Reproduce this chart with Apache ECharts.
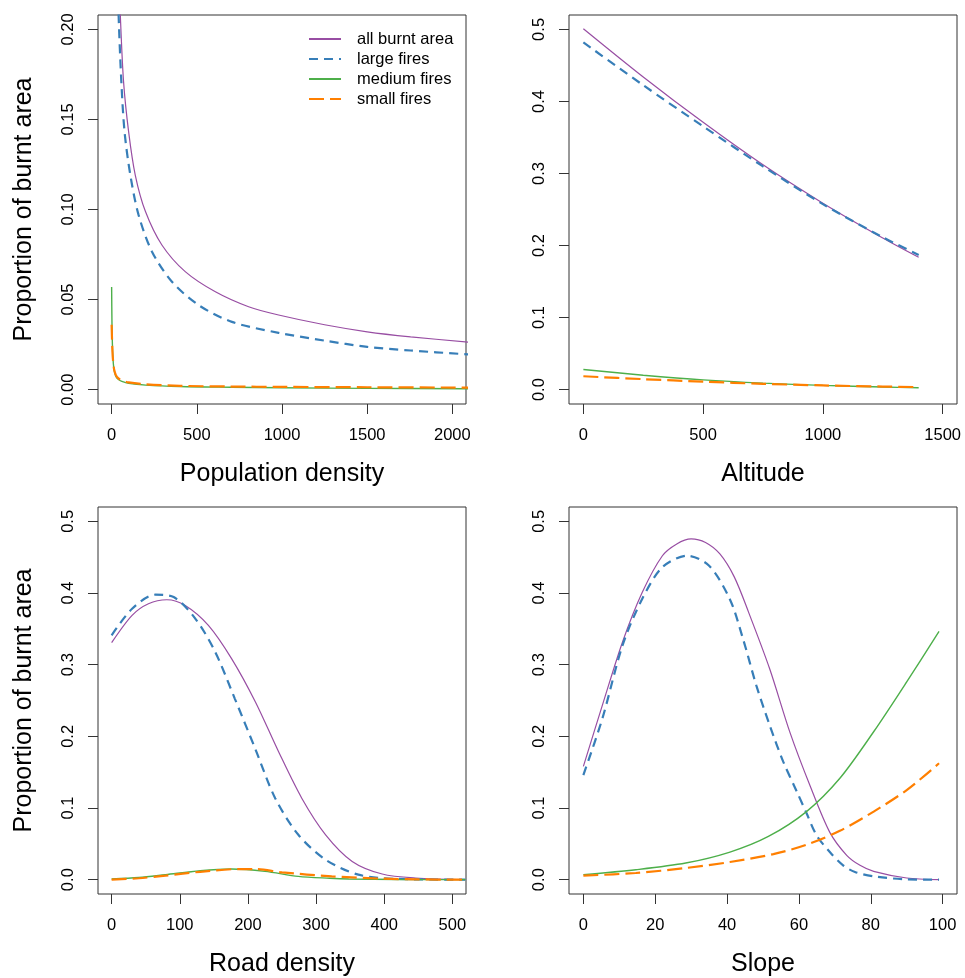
<!DOCTYPE html>
<html>
<head>
<meta charset="utf-8">
<title>Proportion of burnt area</title>
<script src="https://cdn.jsdelivr.net/npm/echarts@6/dist/echarts.min.js"></script>
<style>
  html, body { margin: 0; padding: 0; background: #fff; }
  #chart { width: 965px; height: 978px; }
</style>
</head>
<body>
<div id="chart"></div>
<script>
// series names, shared by all four panels
const seriesNames = ['all burnt area', 'large fires', 'medium fires', 'small fires'];

// Population density panel, [x, y] pairs
const popAll = [[40, 0.24], [51, 0.208], [70, 0.171], [100, 0.143], [139, 0.119], [198, 0.099], [295, 0.0803], [432, 0.0655], [609, 0.0543], [804, 0.046], [980, 0.0414], [1250, 0.036], [1500, 0.0321], [1755, 0.0293], [2100, 0.0263]];
const popLarge = [[30, 0.25], [41, 0.208], [57, 0.171], [76, 0.143], [110, 0.119], [158, 0.097], [237, 0.0766], [354, 0.0599], [511, 0.0469], [706, 0.0376], [980, 0.0315], [1250, 0.0272], [1500, 0.0237], [1755, 0.0217], [2100, 0.0195]];
const popMedium = [[0, 0.057], [1, 0.046], [2, 0.037], [4, 0.027], [6, 0.021], [10, 0.0145], [15, 0.0105], [25, 0.0073], [40, 0.0056], [60, 0.0046], [100, 0.0035], [200, 0.0025], [400, 0.0017], [700, 0.0013], [1000, 0.001], [1500, 0.0007], [2100, 0.0005]];
const popSmall = [[0, 0.036], [2, 0.029], [4, 0.023], [6, 0.019], [10, 0.0145], [15, 0.011], [25, 0.008], [40, 0.0062], [60, 0.0051], [100, 0.004], [200, 0.0029], [400, 0.0021], [700, 0.0017], [1000, 0.0015], [1500, 0.0013], [2100, 0.0011]];

// Altitude panel
const altX = [0, 250, 500, 750, 1000, 1250, 1400];
const altAll = [0.501, 0.434, 0.371, 0.312, 0.2588, 0.2105, 0.1837];
const altLarge = [0.482, 0.4225, 0.3655, 0.3098, 0.2575, 0.2115, 0.187];
const altMedium = [0.0278, 0.02, 0.0135, 0.009, 0.0058, 0.0035, 0.0025];
const altSmall = [0.0185, 0.0145, 0.011, 0.008, 0.0058, 0.0042, 0.0035];

// Road density panel
const roadAll = [[0, 0.3307], [30, 0.3688], [54, 0.385], [81, 0.3906], [108, 0.3827], [142, 0.3549], [176, 0.3085], [211, 0.248], [245, 0.1785], [279, 0.1137], [314, 0.0626], [353, 0.0255], [397, 0.0079], [446, 0.0023], [519, 0.0]];
const roadLarge = [[0, 0.341], [30, 0.378], [64, 0.3976], [91, 0.3943], [123, 0.364], [152, 0.3177], [181, 0.252], [211, 0.182], [240, 0.1137], [274, 0.0626], [314, 0.0278], [362, 0.007], [421, 0.001], [519, 0.0]];
const roadMedium = [[0, 0.001], [40, 0.003], [79, 0.007], [130, 0.0125], [176, 0.0148], [225, 0.0116], [274, 0.0046], [320, 0.002], [348, 0.001], [420, 0.0002], [519, 0]];
const roadSmall = [[0, 0.0], [40, 0.002], [79, 0.0056], [130, 0.011], [186, 0.0148], [210, 0.0148], [250, 0.0102], [323, 0.0046], [397, 0.0014], [450, 0.0004], [519, 0]];

// Slope panel
const slopeAll = [[0, 0.158], [5.3, 0.2435], [10.9, 0.3317], [16.4, 0.401], [22, 0.452], [26, 0.4685], [30, 0.4755], [34, 0.4705], [38, 0.4545], [42, 0.4225], [46, 0.373], [51.9, 0.2936], [57.5, 0.2055], [63.1, 0.131], [68.6, 0.066], [73.3, 0.034], [77, 0.02], [80.8, 0.0116], [90, 0.0023], [99, 0]];
const slopeLarge = [[0, 0.146], [5.3, 0.225], [10.9, 0.327], [16.4, 0.392], [22, 0.436], [28.9, 0.452], [35, 0.438], [40.8, 0.391], [44.5, 0.335], [48.2, 0.27], [51.9, 0.215], [55.6, 0.165], [59.4, 0.123], [62.1, 0.093], [64.9, 0.062], [68.6, 0.0385], [72.3, 0.02], [75.6, 0.0107], [80.8, 0.0046], [90, 0.0005], [99, 0]];
const slopeMedium = [[0, 0.007], [14.6, 0.0139], [28.5, 0.0232], [40.8, 0.0385], [51.5, 0.0603], [62.1, 0.095], [71.4, 0.1415], [80.8, 0.2064], [90, 0.276], [99, 0.3465]];
const slopeSmall = [[0, 0.0056], [14.6, 0.0093], [28.5, 0.0163], [40.8, 0.0246], [52.9, 0.0357], [62.1, 0.0487], [71.4, 0.0682], [80.8, 0.095], [90, 0.125], [99, 0.1624]];

// tick labels
const popXTicks = [0, 500, 1000, 1500, 2000];
const popYTicks = [0, 0.05, 0.1, 0.15, 0.2];
const altXTicks = [0, 500, 1000, 1500];
const roadXTicks = [0, 100, 200, 300, 400, 500];
const slopeXTicks = [0, 20, 40, 60, 80, 100];
const propYTicks = [0, 0.1, 0.2, 0.3, 0.4, 0.5];

const colors = ['#984EA3', '#377EB8', '#4DAF4A', '#FF7F00'];
const lineStyles = [
  { width: 1.2, type: 'solid' },
  { width: 2.2, type: [9, 6] },
  { width: 1.4, type: 'solid' },
  { width: 2.2, type: [15, 6] }
];

const fontFamily = '"Liberation Sans", Arial, Helvetica, sans-serif';

const zip = (xs, ys) => xs.map((x, i) => [x, ys[i]]);

const panels = [
  {
    grid: { left: 98, top: 15, width: 368, height: 389 },
    xRange: [-80, 2080], xTicks: popXTicks,
    yRange: [-0.008, 0.208], yTicks: popYTicks, digits: 2,
    xName: 'Population density', yName: 'Proportion of burnt area',
    data: [popAll, popLarge, popMedium, popSmall]
  },
  {
    grid: { left: 569, top: 15, width: 388, height: 389 },
    xRange: [-60, 1560], xTicks: altXTicks,
    yRange: [-0.02, 0.52], yTicks: propYTicks, digits: 1,
    xName: 'Altitude', yName: '',
    data: [zip(altX, altAll), zip(altX, altLarge), zip(altX, altMedium), zip(altX, altSmall)]
  },
  {
    grid: { left: 98, top: 507, width: 368, height: 389 },
    xRange: [-20, 520], xTicks: roadXTicks,
    yRange: [-0.02, 0.52], yTicks: propYTicks, digits: 1,
    xName: 'Road density', yName: 'Proportion of burnt area',
    data: [roadAll, roadLarge, roadMedium, roadSmall]
  },
  {
    grid: { left: 569, top: 507, width: 388, height: 389 },
    xRange: [-4, 104], xTicks: slopeXTicks,
    yRange: [-0.02, 0.52], yTicks: propYTicks, digits: 1,
    xName: 'Slope', yName: '',
    data: [slopeAll, slopeLarge, slopeMedium, slopeSmall]
  }
];

const tickStyle = { show: true, length: 10, lineStyle: { color: '#333', width: 1 } };
const labelFont = { color: '#000', fontSize: 16.5, fontFamily: fontFamily };

const grid = [], xAxis = [], yAxis = [], series = [];

panels.forEach((p, i) => {
  grid.push(Object.assign({ show: true, borderColor: '#333', borderWidth: 1, containLabel: false }, p.grid));

  xAxis.push({
    type: 'value', gridIndex: i, min: p.xRange[0], max: p.xRange[1],
    name: p.xName, nameLocation: 'middle', nameGap: 58,
    nameTextStyle: { color: '#000', fontSize: 25, fontFamily: fontFamily },
    axisLine: { show: false, onZero: false },
    splitLine: { show: false },
    axisTick: Object.assign({ customValues: p.xTicks }, tickStyle),
    axisLabel: Object.assign({
      customValues: p.xTicks, margin: 23,
      formatter: v => String(v)
    }, labelFont)
  });

  yAxis.push({
    type: 'value', gridIndex: i, min: p.yRange[0], max: p.yRange[1],
    name: p.yName, nameLocation: 'middle', nameGap: 61,
    nameTextStyle: { color: '#000', fontSize: 25, fontFamily: fontFamily },
    axisLine: { show: false, onZero: false },
    splitLine: { show: false },
    axisTick: Object.assign({ customValues: p.yTicks }, tickStyle),
    axisLabel: Object.assign({
      customValues: p.yTicks, margin: 21, rotate: 90,
      formatter: v => v.toFixed(p.digits)
    }, labelFont)
  });

  p.data.forEach((d, k) => {
    series.push({
      name: seriesNames[k],
      type: 'line',
      xAxisIndex: i, yAxisIndex: i,
      data: d,
      smooth: 0.3,
      symbol: 'none',
      clip: true,
      animation: false,
      color: colors[k],
      lineStyle: { color: colors[k], width: lineStyles[k].width, type: lineStyles[k].type }
    });
  });
});

const chart = echarts.init(document.getElementById('chart'), null, { renderer: 'canvas' });

chart.setOption({
  backgroundColor: '#fff',
  animation: false,
  legend: {
    data: seriesNames,
    orient: 'vertical',
    left: 308, top: 30.5,
    padding: 0,
    itemWidth: 32, itemHeight: 14, itemGap: 3,
    selectedMode: false,
    itemStyle: { opacity: 0 },
    textStyle: { color: '#000', fontSize: 16.5, fontFamily: fontFamily, padding: [0, 0, 0, 11] }
  },
  grid: grid,
  xAxis: xAxis,
  yAxis: yAxis,
  series: series
});

window.addEventListener('resize', () => chart.resize());
</script>
</body>
</html>
